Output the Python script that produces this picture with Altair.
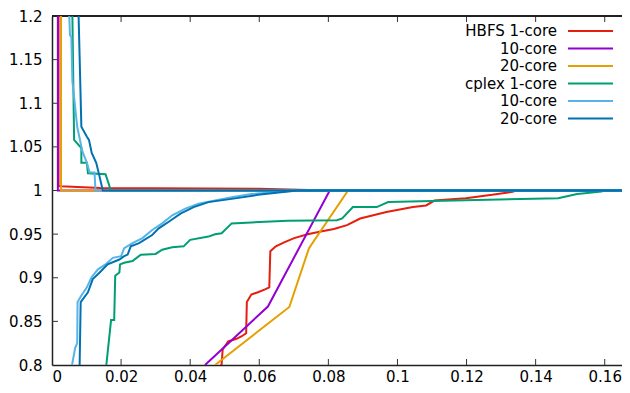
import altair as alt
import pandas as pd

# ---------------- data ----------------
series = ["HBFS 1-core", "HBFS 10-core", "HBFS 20-core",
          "cplex 1-core", "cplex 10-core", "cplex 20-core"]
legend_labels = ["HBFS 1-core", "10-core", "20-core", "cplex 1-core", "10-core", "20-core"]
colors = ["#e51e10", "#9400d3", "#e69f00", "#009e73", "#56b4e9", "#0072b2"]

x_ticks = [0, 0.02, 0.04, 0.06, 0.08, 0.1, 0.12, 0.14, 0.16]
y_ticks = [0.8, 0.85, 0.9, 0.95, 1.0, 1.05, 1.1, 1.15, 1.2]

# upper branches (descending to 1)
hbfs1_up_x = [0.0019, 0.0019, 0.0025, 0.014, 0.045, 0.06, 0.08, 0.165]
hbfs1_up_y = [1.2, 1.0052, 1.0050, 1.0028, 1.0022, 1.002, 1.0, 1.0]
hbfs10_up_x = [0.0017, 0.0017, 0.165]
hbfs10_up_y = [1.2, 1.0, 1.0]
hbfs20_up_x = [0.0026, 0.0026, 0.165]
hbfs20_up_y = [1.2, 1.0, 1.0]
cplex1_up_x = [0.0059, 0.0064, 0.0085, 0.0085, 0.0101, 0.0104, 0.0155, 0.0168, 0.0168, 0.165]
cplex1_up_y = [1.2, 1.058, 1.0487, 1.0318, 1.0318, 1.0197, 1.0186, 1.003, 1.0, 1.0]
cplex10_up_x = [0.0050, 0.0052, 0.0056, 0.0059, 0.0073, 0.0088, 0.0101, 0.0109, 0.0123, 0.0126, 0.165]
cplex10_up_y = [1.2, 1.178, 1.176, 1.1256, 1.073, 1.0448, 1.0318, 1.0205, 1.0205, 1.0, 1.0]
cplex20_up_x = [0.0077, 0.0085, 0.0101, 0.0107, 0.0115, 0.0128, 0.0135, 0.0147, 0.165]
cplex20_up_y = [1.2, 1.073, 1.0617, 1.058, 1.043, 1.0318, 1.0205, 1.0, 1.0]

# lower branches (ascending to 1)
hbfs1_lo_x = [0.0488, 0.0491, 0.0494, 0.051, 0.0534, 0.0548, 0.0562, 0.0564, 0.0577, 0.0596,
              0.0615, 0.0629, 0.0632, 0.0648, 0.0672, 0.0701, 0.074, 0.0778, 0.0816, 0.0854,
              0.0892, 0.0968, 0.1045, 0.1083, 0.1107, 0.1198, 0.1274, 0.1336, 0.134, 0.165]
hbfs1_lo_y = [0.8, 0.8008, 0.8177, 0.827, 0.830, 0.8327, 0.8364, 0.8721, 0.8808, 0.8834,
              0.8864, 0.889, 0.9304, 0.936, 0.9405, 0.9454, 0.9499, 0.9529, 0.9558, 0.9603,
              0.9679, 0.9754, 0.981, 0.9829, 0.9885, 0.9912, 0.995, 0.9987, 1.0, 1.0]
hbfs10_lo_x = [0.0443, 0.0625, 0.0804, 0.165]
hbfs10_lo_y = [0.8, 0.867, 1.0, 1.0]
hbfs20_lo_x = [0.0472, 0.0687, 0.0744, 0.0857, 0.165]
hbfs20_lo_y = [0.8, 0.8665, 0.934, 1.0, 1.0]
cplex1_lo_x = [0.0157, 0.0158, 0.0171, 0.018, 0.0183, 0.0195, 0.0197, 0.0209, 0.0233, 0.0257,
               0.03, 0.0319, 0.0348, 0.0381, 0.04, 0.0453, 0.0472, 0.0491, 0.052, 0.0577,
               0.0682, 0.0825, 0.084, 0.0871, 0.094, 0.0973, 0.1465, 0.152, 0.159, 0.16, 0.165]
cplex1_lo_y = [0.8, 0.8027, 0.8515, 0.8515, 0.9022, 0.906, 0.9153, 0.9172, 0.9191, 0.9265,
               0.9273, 0.9322, 0.9349, 0.936, 0.9434, 0.9472, 0.9499, 0.951, 0.9623, 0.9634,
               0.9653, 0.9659, 0.968, 0.981, 0.981, 0.9867, 0.9912, 0.996, 0.9987, 1.0, 1.0]
cplex10_lo_x = [0.0058, 0.0067, 0.0073, 0.0074, 0.0085, 0.0101, 0.0114, 0.0133, 0.0155, 0.0176,
                0.02, 0.0209, 0.0233, 0.0262, 0.029, 0.0319, 0.0348, 0.0386, 0.0424, 0.0472,
                0.052, 0.0577, 0.071, 0.165]
cplex10_lo_y = [0.8, 0.8195, 0.8251, 0.8721, 0.8797, 0.889, 0.9003, 0.9096, 0.9153, 0.9228,
                0.9247, 0.934, 0.9397, 0.9454, 0.9547, 0.9623, 0.9716, 0.9792, 0.9848, 0.9885,
                0.9923, 0.996, 1.0, 1.0]
cplex20_lo_x = [0.008, 0.0083, 0.009, 0.0104, 0.0118, 0.0138, 0.0161, 0.0195, 0.0209, 0.0219,
                0.0228, 0.0252, 0.029, 0.0309, 0.0338, 0.0372, 0.041, 0.0453, 0.052, 0.0596,
                0.071, 0.165]
cplex20_lo_y = [0.8, 0.8721, 0.8758, 0.8834, 0.8984, 0.906, 0.9153, 0.9209, 0.9247, 0.9265,
                0.936, 0.9397, 0.949, 0.9566, 0.9642, 0.9735, 0.981, 0.9867, 0.9904, 0.995,
                1.0, 1.0]

branches = {
    "HBFS 1-core": [(hbfs1_up_x, hbfs1_up_y), (hbfs1_lo_x, hbfs1_lo_y)],
    "HBFS 10-core": [(hbfs10_up_x, hbfs10_up_y), (hbfs10_lo_x, hbfs10_lo_y)],
    "HBFS 20-core": [(hbfs20_up_x, hbfs20_up_y), (hbfs20_lo_x, hbfs20_lo_y)],
    "cplex 1-core": [(cplex1_up_x, cplex1_up_y), (cplex1_lo_x, cplex1_lo_y)],
    "cplex 10-core": [(cplex10_up_x, cplex10_up_y), (cplex10_lo_x, cplex10_lo_y)],
    "cplex 20-core": [(cplex20_up_x, cplex20_up_y), (cplex20_lo_x, cplex20_lo_y)],
}

rows = []
for s in series:
    for bi, (xs, ys) in enumerate(branches[s]):
        for i, (xv, yv) in enumerate(zip(xs, ys)):
            rows.append({"series": s, "seg": f"{s}-{bi}", "x": xv, "y": yv, "ord": i})
df = pd.DataFrame(rows)

FONT = "DejaVu Sans"
W, H = 570, 349
xscale = alt.Scale(domain=[0, 0.165], nice=False, zero=False)
yscale = alt.Scale(domain=[0.8, 1.2], nice=False, zero=False)
BORDER = "#222222"

base = alt.Chart(df)
line_layers = []
for s, c in zip(series, colors):
    line_layers.append(
        base.transform_filter(alt.datum.series == s)
        .mark_line(clip=True, strokeWidth=2, color=c)
        .encode(
            x=alt.X("x:Q", scale=xscale,
                    axis=alt.Axis(values=x_ticks, format=".2~f", title=None, grid=False,
                                  domain=True, domainColor=BORDER, domainWidth=1.5,
                                  tickSize=0, labelPadding=16, labelBaseline="alphabetic",
                                  labelFont=FONT, labelFontSize=15, labelColor="black")),
            y=alt.Y("y:Q", scale=yscale,
                    axis=alt.Axis(values=y_ticks, format=".2~f", title=None, grid=False,
                                  domain=True, domainColor=BORDER, domainWidth=1.5,
                                  tickSize=0, labelPadding=10,
                                  labelFont=FONT, labelFontSize=15, labelColor="black")),
            detail="seg:N",
            order="ord:Q",
        )
    )

# inward ticks (gnuplot style)
xt = pd.DataFrame({"v": x_ticks[1:]})
yt = pd.DataFrame({"v": y_ticks[1:-1]})
tick_color = "#333333"
bottom_ticks = alt.Chart(xt).mark_rule(color=tick_color, strokeWidth=1).encode(
    x=alt.X("v:Q", scale=xscale), y=alt.value(H), y2=alt.value(H - 6))
top_ticks = alt.Chart(xt).mark_rule(color=tick_color, strokeWidth=1).encode(
    x=alt.X("v:Q", scale=xscale), y=alt.value(0), y2=alt.value(6))
left_ticks = alt.Chart(yt).mark_rule(color=tick_color, strokeWidth=1).encode(
    y=alt.Y("v:Q", scale=yscale), x=alt.value(0), x2=alt.value(6))
top_border = alt.Chart(xt).mark_rule(color=BORDER, strokeWidth=1.5).encode(
    x=alt.value(0), x2=alt.value(W), y=alt.value(0))

# gnuplot-style key (text right-aligned, sample line to the right)
leg = pd.DataFrame({
    "label": legend_labels,
    "col": colors,
    "ly": [15 + 17.5 * i for i in range(len(legend_labels))],
})
leg_text = alt.Chart(leg).mark_text(align="right", baseline="middle", font=FONT,
                                    fontSize=15, color="black").encode(
    x=alt.value(505), y=alt.Y("ly:Q", scale=None), text="label:N")
leg_line = alt.Chart(leg).mark_rule(strokeWidth=2).encode(
    x=alt.value(516), x2=alt.value(561), y=alt.Y("ly:Q", scale=None),
    color=alt.Color("col:N", scale=None, legend=None))

chart = alt.layer(
    bottom_ticks, top_ticks, left_ticks, top_border,
    *line_layers, leg_text, leg_line
).properties(
    width=W, height=H,
    autosize=alt.AutoSizeParams(type="none"),
    padding={"left": 44, "top": 8, "right": 0, "bottom": 20},
).configure_view(stroke=None).configure(background="white")

chart.save("out.html", embed_options={"renderer": "svg", "actions": False})
